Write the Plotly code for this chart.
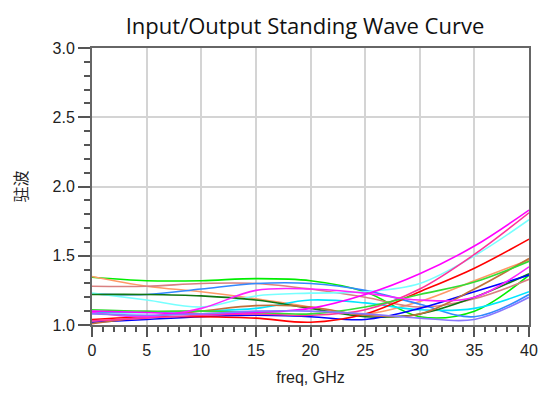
import plotly.graph_objects as go

freq = [0, 5, 10, 15, 20, 25, 30, 35, 40]

s_lime = [1.345, 1.32, 1.32, 1.335, 1.32, 1.24, 1.06, 1.10, 1.36]
s_orange = [1.35, 1.28, 1.24, 1.19, 1.13, 1.08, 1.17, 1.32, 1.47]
s_rosy = [1.28, 1.28, 1.30, 1.30, 1.26, 1.20, 1.13, 1.19, 1.33]
s_dodger = [1.225, 1.22, 1.26, 1.30, 1.30, 1.25, 1.15, 1.06, 1.22]
s_lightcyan = [1.23, 1.18, 1.13, 1.21, 1.23, 1.24, 1.30, 1.50, 1.76]
s_cyan = [1.09, 1.09, 1.10, 1.12, 1.18, 1.16, 1.11, 1.12, 1.24]
s_darkgreen = [1.22, 1.22, 1.21, 1.18, 1.12, 1.06, 1.08, 1.20, 1.37]
s_blue = [1.02, 1.04, 1.06, 1.07, 1.06, 1.04, 1.12, 1.24, 1.36]
s_red = [1.04, 1.06, 1.06, 1.05, 1.02, 1.08, 1.24, 1.41, 1.62]
s_brown = [1.01, 1.06, 1.10, 1.14, 1.13, 1.07, 1.08, 1.26, 1.48]
s_deeppink = [1.03, 1.05, 1.07, 1.08, 1.07, 1.11, 1.26, 1.51, 1.81]
s_green = [1.11, 1.10, 1.10, 1.09, 1.08, 1.13, 1.22, 1.31, 1.46]
s_magenta2 = [1.09, 1.06, 1.12, 1.25, 1.26, 1.23, 1.18, 1.20, 1.42]
s_magenta = [1.10, 1.09, 1.08, 1.09, 1.12, 1.22, 1.37, 1.57, 1.83]
s_purple = [1.08, 1.07, 1.08, 1.10, 1.10, 1.08, 1.05, 1.04, 1.20]

series = [
    (s_lime, "#00ee00"),
    (s_orange, "#ff9966"),
    (s_rosy, "#d98080"),
    (s_dodger, "#3388ff"),
    (s_lightcyan, "#77ffff"),
    (s_cyan, "#00e5ff"),
    (s_darkgreen, "#117711"),
    (s_blue, "#0000ff"),
    (s_red, "#ff0000"),
    (s_brown, "#c0703a"),
    (s_deeppink, "#ff3399"),
    (s_green, "#33dd33"),
    (s_magenta2, "#ff22ff"),
    (s_magenta, "#ff00ff"),
    (s_purple, "#8877ff"),
]

y_ticks = [1.0, 1.5, 2.0, 2.5, 3.0]
x_ticks = [0, 5, 10, 15, 20, 25, 30, 35, 40]

fig = go.Figure()
for vals, col in series:
    fig.add_trace(go.Scatter(x=freq, y=vals, mode="lines",
                             line=dict(color=col, width=1.6, shape="spline", smoothing=1.0),
                             showlegend=False, hoverinfo="skip"))

fig.update_layout(
    width=539, height=397,
    margin=dict(l=84, r=18, t=40, b=80, autoexpand=False),
    paper_bgcolor="white", plot_bgcolor="white",
    title=dict(text="Input/Output Standing Wave Curve", x=0.551, xanchor="center",
               y=0.955, yanchor="middle",
               font=dict(family="Open Sans, Noto Sans", size=22, color="#111")),
    font=dict(family="Liberation Sans, Arial", color="#222"),
)
fig.update_xaxes(
    range=[0, 40], tickvals=x_ticks, ticks="outside", ticklen=10, tickwidth=1.5,
    tickcolor="#555", showline=True, linecolor="#666", linewidth=2, mirror=True,
    showgrid=True, gridcolor="#d4d4d4", gridwidth=1.5, zeroline=False, automargin=False,
    tickfont=dict(size=16, color="#222"),
    minor=dict(dtick=1, ticks="outside", ticklen=5, tickcolor="#555", showgrid=False),
    title=dict(text="freq, GHz", font=dict(size=16, color="#222"), standoff=14),
)
fig.update_yaxes(
    range=[1.0, 3.0], tickvals=y_ticks, tickformat=".1f", ticks="outside", ticklen=12,
    tickwidth=1.5, tickcolor="#555", showline=True, linecolor="#666", linewidth=2,
    mirror=True, showgrid=True, gridcolor="#d4d4d4", gridwidth=1.5, zeroline=False,
    automargin=False,
    tickfont=dict(size=16, color="#222"),
    minor=dict(dtick=0.1, ticks="outside", ticklen=6, tickcolor="#555", showgrid=False),
    title=dict(text="驻波", font=dict(family="Noto Sans CJK SC", size=16, color="#222"),
               standoff=28),
)

fig.write_html("out.html")
